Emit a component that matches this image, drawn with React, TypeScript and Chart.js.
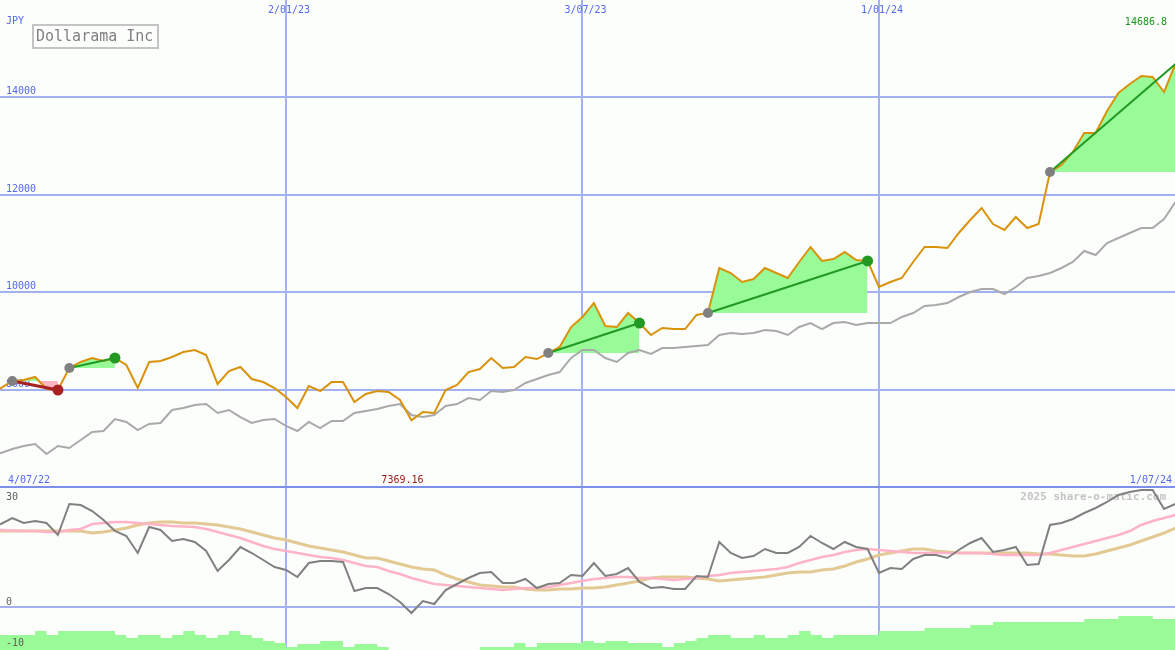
import React, { useEffect, useRef } from 'react';
import { Chart, registerables } from 'chart.js';

Chart.register(...registerables);

// ---------- texts / ticks ----------
const title = 'Dollarama Inc';
const currency = 'JPY';
const startLabel = '4/07/22';
const endLabel = '1/07/24';
const dateTickWeeks = [26, 52, 78];
const dateTickLabels = ['2/01/23', '3/07/23', '1/01/24'];
const priceTicks = [8000, 10000, 12000, 14000];
const indicatorTicks = [30, 0, -10];
const indicatorGrid = [0];
const watermark = '2025 share-o-matic.com';

// ---------- series (weekly, index 0..104) ----------
const price = [
  7950,
  8033, 8177, 8197, 8259, 8012, 7992, 8443, 8567, 8649, 8587,
  8649, 8505, 8033, 8567, 8587, 8669, 8772, 8813, 8710, 8115,
  8382, 8464, 8218, 8156, 8033, 7848, 7622, 8074, 7971, 8156,
  8156, 7745, 7910, 7971, 7951, 7786, 7369.16, 7540, 7519, 7992,
  8094, 8361, 8423, 8649, 8443, 8464, 8669, 8628, 8751, 8875,
  9285, 9491, 9778, 9306, 9285, 9573, 9367, 9121, 9265, 9244,
  9244, 9532, 9573, 10497, 10394, 10209, 10271, 10497, 10394, 10291,
  10620, 10928, 10641, 10682, 10825, 10661, 10641, 10107, 10209, 10291,
  10620, 10928, 10928, 10908, 11216, 11483, 11729, 11400, 11277, 11544,
  11318, 11400, 12468, 12612, 12879, 13269, 13269, 13721, 14090, 14275,
  14439, 14419, 14111, 14686.8,
];

const movingAvg = [
  6640,
  6698, 6780, 6842, 6883, 6678, 6842, 6801, 6965, 7129, 7150,
  7396, 7335, 7170, 7294, 7314, 7581, 7622, 7684, 7704, 7519,
  7581, 7437, 7314, 7376, 7396, 7253, 7150, 7335, 7211, 7355,
  7355, 7519, 7560, 7602, 7663, 7704, 7478, 7437, 7478, 7663,
  7704, 7827, 7786, 7971, 7951, 7992, 8136, 8218, 8300, 8361,
  8649, 8813, 8813, 8649, 8567, 8751, 8813, 8731, 8854, 8854,
  8875, 8895, 8916, 9121, 9162, 9142, 9162, 9224, 9203, 9121,
  9285, 9367, 9244, 9367, 9388, 9326, 9367, 9367, 9367, 9491,
  9573, 9717, 9737, 9778, 9901, 10004, 10066, 10066, 9963, 10107,
  10291, 10333, 10394, 10497, 10620, 10846, 10764, 11010, 11113, 11216,
  11318, 11318, 11503, 11852,
];

const momentum = [
  20,
  20.75, 22.25, 21, 21.5, 21, 18, 25.75, 25.5, 24, 21.75,
  19, 17.75, 13.5, 20, 19.25, 16.5, 17, 16.25, 14, 9,
  11.75, 15, 13.5, 11.75, 10, 9.25, 7.5, 11, 11.5, 11.5,
  11.25, 4, 4.75, 4.75, 3.25, 1.25, -1.5, 1.5, 0.75, 4.25,
  5.75, 7.25, 8.5, 8.75, 6, 6, 7, 4.75, 5.75, 6,
  8, 7.75, 11, 7.75, 8.25, 9.75, 6.25, 4.75, 5, 4.5,
  4.5, 7.75, 7.5, 16.25, 13.5, 12.25, 12.75, 14.5, 13.5, 13.5,
  15, 17.75, 16, 14.5, 16.25, 15, 14.5, 8.5, 9.75, 9.5,
  12, 13, 13, 12.25, 14.25, 16, 17.25, 13.75, 14.25, 15,
  10.5, 10.75, 20.5, 21, 22, 23.5, 24.75, 26.25, 28, 28.75,
  29.25, 29.25, 24.5, 25.75,
];

const momentumFast = [
  19.25, 19.25, 19.1, 19, 19, 18.75, 18.75, 19.25, 19.5, 20.75, 21,
  21.25, 21.25, 21, 20.75, 20.5, 20.25, 20.1, 20, 19.5, 18.75,
  18, 17.25, 16.25, 15.25, 14.5, 14, 13.5, 13, 12.5, 12.25,
  11.75, 11, 10.25, 10, 9, 8.25, 7.25, 6.5, 5.75, 5.5,
  5.25, 5, 4.75, 4.5, 4.25, 4.5, 4.75, 4.75, 5, 5.5,
  6, 6.5, 7, 7.25, 7.5, 7.5, 7.25, 7.25, 7, 6.75,
  7, 7.25, 7.75, 8, 8.5, 8.75, 9, 9.25, 9.5, 10,
  11, 11.75, 12.5, 13, 13.75, 14.25, 14.5, 14.25, 14, 13.75,
  13.5, 13.5, 13.5, 13.5, 13.5, 13.5, 13.5, 13.25, 13, 13,
  13, 13, 13.5, 14.25, 15, 15.75, 16.5, 17.25, 18, 19,
  20.5, 21.5, 22.25, 23,
];

const momentumSlow = [
  19, 19, 19, 19, 19, 19, 19, 19, 19, 18.5, 18.75,
  19.25, 19.75, 20.5, 21, 21.25, 21.25, 21, 21, 20.75, 20.5,
  20, 19.5, 18.75, 18, 17.25, 16.75, 16, 15.25, 14.75, 14.25,
  13.75, 13, 12.25, 12.25, 11.5, 10.75, 10, 9.5, 9.25, 8,
  7, 6.25, 5.5, 5.25, 5, 5, 4.5, 4.25, 4.25, 4.5,
  4.5, 4.75, 4.75, 5, 5.5, 6, 6.5, 7.25, 7.5, 7.5,
  7.5, 7.25, 7, 6.5, 6.75, 7, 7.25, 7.5, 8, 8.5,
  8.75, 8.75, 9.25, 9.5, 10.25, 11.25, 12, 13, 13.5, 14,
  14.5, 14.5, 14, 13.75, 13.5, 13.5, 13.5, 13.5, 13.5, 13.5,
  13.5, 13.25, 13.25, 13, 12.75, 12.75, 13.25, 14, 14.75, 15.5,
  16.5, 17.5, 18.5, 19.75,
];

const strength = [
  -7, -7, -7, -7, -6, -7, -6, -6, -6, -6, -6,
  -7, -7.75, -7, -7, -7.75, -7, -6, -7, -7.75, -7,
  -6, -7, -7.75, -8.5, -9, -10, -9.25, -9.25, -8.5, -8.5,
  -10, -9.25, -9.25, -10, -11, -11, -11, -11, -11, -11,
  -11, -11, -10, -10, -10, -9, -10, -9, -9, -9,
  -9, -8.5, -9, -8.5, -8.5, -9, -9, -9, -10, -9,
  -8.5, -7.75, -7, -7, -7.75, -7.75, -7, -7.75, -7.75, -7,
  -6, -7, -7.75, -7, -7, -7, -7, -6, -6, -6,
  -6, -5.25, -5.25, -5.25, -5.25, -4.5, -4.5, -3.75, -3.75, -3.75,
  -3.75, -3.75, -3.75, -3.75, -3.75, -3, -3, -3, -2.25, -2.25,
  -2.25, -3, -3, -3,
];

// trades (week indices)
const tradeEntry = [2, 7, 49, 63, 93];
const tradeExit = [6, 11, 57, 77, 104];
const tradeOpen = [false, false, false, false, true];

const weeks = price.map((_, i) => i);

// ---------- styles ----------
const BG = '#fcfefc';
const GRID = '#a3b1f2';
const SEP = '#7d8fea';
const BLUE_TXT = '#5468f0';
const ORANGE = '#d9920a';
const MA_GRAY = '#a9a9a9';
const WIN = '#229922';
const LOSS = '#a82222';
const FILL_WIN = '#98fb98';
const FILL_LOSS = '#ffb6c1';
const X_MIN = 0.92;
const X_MAX = 103.96;
const FONT = '"DejaVu Sans Mono", monospace';

const pts = (arr: number[]) => arr.map((v, i) => ({ x: weeks[i], y: v }));

function xAxis() {
  return {
    type: 'linear' as const,
    min: X_MIN,
    max: X_MAX,
    afterBuildTicks: (s: any) => {
      s.ticks = dateTickWeeks.map((v) => ({ value: v }));
    },
    ticks: { display: false },
    grid: { color: GRID, lineWidth: 2, drawTicks: false },
    border: { display: false },
  };
}

export default function App() {
  const topRef = useRef<HTMLCanvasElement>(null);
  const botRef = useRef<HTMLCanvasElement>(null);

  useEffect(() => {
    document.body.style.margin = '0';
    const W = 1175;

    const minVal = Math.min(...price);
    const minIdx = price.indexOf(minVal);
    const lastVal = price[price.length - 1];

    const mainDecor = {
      id: 'mainDecor',
      beforeDraw(chart: any) {
        const { ctx } = chart;
        ctx.save();
        ctx.fillStyle = BG;
        ctx.fillRect(0, 0, chart.width, chart.height);
        ctx.restore();
      },
      beforeDatasetsDraw(chart: any) {
        const { ctx } = chart;
        const x = chart.scales.x;
        const y = chart.scales.y;
        ctx.save();
        ctx.fillStyle = SEP;
        ctx.fillRect(0, chart.height - 1, W, 1);
        ctx.font = `10px ${FONT}`;
        ctx.fillStyle = BLUE_TXT;
        ctx.textBaseline = 'alphabetic';
        ctx.textAlign = 'left';
        priceTicks.forEach((v) => ctx.fillText(String(v), 6, y.getPixelForValue(v) - 3));
        ctx.fillText(currency, 6, 24);
        ctx.textAlign = 'center';
        dateTickWeeks.forEach((v, k) => ctx.fillText(dateTickLabels[k], x.getPixelForValue(v) + 3, 13));
        ctx.textAlign = 'left';
        ctx.fillText(startLabel, 8, 483);
        ctx.textAlign = 'right';
        ctx.fillText(endLabel, 1172, 483);
        ctx.fillStyle = '#a01818';
        ctx.textAlign = 'center';
        ctx.fillText(minVal.toFixed(2), x.getPixelForValue(weeks[minIdx]) - 9, 483);
        ctx.fillStyle = '#1a961a';
        ctx.textAlign = 'right';
        ctx.fillText(String(lastVal), 1167, 25);
        // title box
        ctx.strokeStyle = '#c4c4c4';
        ctx.lineWidth = 2;
        ctx.strokeRect(33, 25, 125, 23);
        ctx.font = `15px ${FONT}`;
        ctx.fillStyle = '#808080';
        ctx.textAlign = 'left';
        ctx.fillText(title, 36, 41);
        ctx.restore();
      },
    };

    const lowDecor = {
      id: 'lowDecor',
      beforeDraw(chart: any) {
        const { ctx } = chart;
        ctx.save();
        ctx.fillStyle = BG;
        ctx.fillRect(0, 0, chart.width, chart.height);
        ctx.restore();
      },
      beforeDatasetsDraw(chart: any) {
        const { ctx } = chart;
        ctx.save();
        ctx.fillStyle = SEP;
        ctx.fillRect(0, 0, W, 1);
        ctx.font = `bold 11px ${FONT}`;
        ctx.fillStyle = '#c4c4c4';
        ctx.textAlign = 'right';
        ctx.textBaseline = 'alphabetic';
        ctx.fillText(watermark, 1166, 13);
        ctx.restore();
      },
      afterDatasetsDraw(chart: any) {
        const { ctx } = chart;
        const y = chart.scales.y;
        ctx.save();
        ctx.font = `10px ${FONT}`;
        ctx.fillStyle = '#606060';
        ctx.textAlign = 'left';
        ctx.textBaseline = 'alphabetic';
        const offs = [13, -2, -1];
        indicatorTicks.forEach((v, k) => ctx.fillText(String(v), 6, y.getPixelForValue(v) + offs[k]));
        ctx.restore();
      },
    };

    const closedIdx = tradeExit.map((_, k) => k).filter((k) => !tradeOpen[k]);
    const isWin = (k: number) => price[tradeExit[k]] >= price[tradeEntry[k]];

    const mainChart = new Chart(topRef.current as HTMLCanvasElement, {
      type: 'line',
      data: {
        datasets: [
          {
            data: closedIdx.map((k) => ({ x: weeks[tradeExit[k]], y: price[tradeExit[k]] })),
            showLine: false,
            pointRadius: 5.5,
            pointBorderWidth: 0,
            pointBackgroundColor: closedIdx.map((k) => (isWin(k) ? WIN : LOSS)),
          },
          {
            data: tradeEntry.map((e) => ({ x: weeks[e], y: price[e] })),
            showLine: false,
            pointRadius: 5,
            pointBorderWidth: 0,
            pointBackgroundColor: '#808080',
          },
          ...tradeEntry.map((e, k) => ({
            data: [
              { x: weeks[e], y: price[e] },
              { x: weeks[tradeExit[k]], y: price[tradeExit[k]] },
            ],
            borderColor: isWin(k) ? WIN : LOSS,
            borderWidth: isWin(k) ? 2 : 3,
            pointRadius: 0,
          })),
          { data: pts(price), borderColor: ORANGE, borderWidth: 2, pointRadius: 0 },
          { data: pts(movingAvg), borderColor: MA_GRAY, borderWidth: 2, pointRadius: 0 },
          ...tradeEntry.map((e, k) => ({
            data: pts(price).slice(e, tradeExit[k] + 1),
            borderColor: 'rgba(0,0,0,0)',
            borderWidth: 0,
            pointRadius: 0,
            fill: { target: { value: price[e] }, above: FILL_WIN, below: FILL_LOSS },
          })),
        ] as any,
      },
      options: {
        animation: false,
        responsive: false,
        events: [],
        layout: { padding: 0, autoPadding: false },
        elements: { line: { tension: 0 } },
        plugins: { legend: { display: false }, tooltip: { enabled: false } },
        scales: {
          x: xAxis(),
          y: {
            type: 'linear',
            min: 6000,
            max: 16000,
            afterBuildTicks: (s: any) => {
              s.ticks = priceTicks.map((v) => ({ value: v }));
            },
            ticks: { display: false },
            grid: { color: GRID, lineWidth: 2, drawTicks: false },
            border: { display: false },
          },
        } as any,
      },
      plugins: [mainDecor],
    });

    const lowChart = new Chart(botRef.current as HTMLCanvasElement, {
      type: 'line',
      data: {
        datasets: [
          { data: pts(momentum), borderColor: '#808080', borderWidth: 2, pointRadius: 0 },
          { data: pts(momentumFast), borderColor: '#ffb3c6', borderWidth: 2.5, pointRadius: 0 },
          { data: pts(momentumSlow), borderColor: '#e3c993', borderWidth: 3, pointRadius: 0 },
          {
            data: pts(strength),
            stepped: 'before',
            borderColor: 'rgba(0,0,0,0)',
            borderWidth: 0,
            pointRadius: 0,
            fill: 'start',
            backgroundColor: FILL_WIN,
          },
        ] as any,
      },
      options: {
        animation: false,
        responsive: false,
        events: [],
        layout: { padding: 0, autoPadding: false },
        elements: { line: { tension: 0 } },
        plugins: { legend: { display: false }, tooltip: { enabled: false } },
        scales: {
          x: xAxis(),
          y: {
            type: 'linear',
            min: -10.75,
            max: 30,
            afterBuildTicks: (s: any) => {
              s.ticks = indicatorGrid.map((v) => ({ value: v }));
            },
            ticks: { display: false },
            grid: { color: GRID, lineWidth: 2, drawTicks: false },
            border: { display: false },
          },
        } as any,
      },
      plugins: [lowDecor],
    });

    return () => {
      mainChart.destroy();
      lowChart.destroy();
    };
  }, []);

  return (
    <div style={{ width: 1175, height: 650, background: BG, overflow: 'hidden' }}>
      <canvas ref={topRef} width={1175} height={487} style={{ display: 'block' }} />
      <canvas ref={botRef} width={1175} height={163} style={{ display: 'block' }} />
    </div>
  );
}
